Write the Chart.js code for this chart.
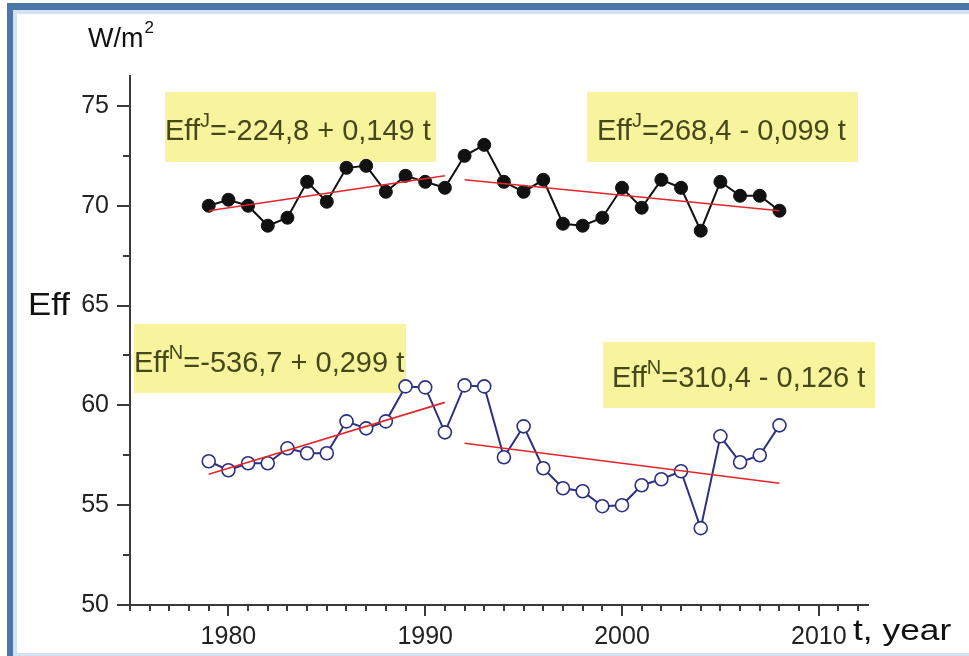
<!DOCTYPE html>
<html>
<head>
<meta charset="utf-8">
<script src="https://cdn.jsdelivr.net/npm/chart.js@4.4.1/dist/chart.umd.min.js"></script>
<style>
  html, body { margin: 0; padding: 0; background: #ffffff; }
  #wrap { position: relative; width: 969px; height: 656px; overflow: hidden; background: #ffffff; }
  .band { position: absolute; }
  #topDark { left: 7px; top: 3px; right: 0; height: 7px; background: #4a76a8; }
  #topLight { left: 13px; top: 10px; right: 0; height: 4px; background: #d3e1f1; }
  #leftDark { left: 7px; top: 3px; width: 6px; bottom: 0; background: #4a76a8; }
  #leftLight { left: 13px; top: 10px; width: 4px; bottom: 0; background: #d3e1f1; }
  #bottomLight { left: 13px; right: 0; bottom: 0; height: 3px; background: #d3e1f1; }
  #c { position: absolute; left: 0; top: 0; }
</style>
</head>
<body>
<div id="wrap">
  <div class="band" id="topDark"></div>
  <div class="band" id="topLight"></div>
  <div class="band" id="leftDark"></div>
  <div class="band" id="leftLight"></div>
  <div class="band" id="bottomLight"></div>
  <canvas id="c" width="969" height="656"></canvas>
</div>
<script>
// Years of observation
const years = [1979, 1980, 1981, 1982, 1983, 1984, 1985, 1986, 1987, 1988,
               1989, 1990, 1991, 1992, 1993, 1994, 1995, 1996, 1997, 1998,
               1999, 2000, 2001, 2002, 2003, 2004, 2005, 2006, 2007, 2008];

// Eff^J, W/m2
const effJ = [70.0, 70.3, 70.0, 69.0, 69.4, 71.2, 70.2, 71.9, 72.0, 70.7,
              71.5, 71.2, 70.9, 72.5, 73.05, 71.2, 70.7, 71.3, 69.1, 69.0,
              69.4, 70.9, 69.9, 71.3, 70.9, 68.75, 71.2, 70.5, 70.5, 69.75];

// Eff^N, W/m2
const effN = [57.2, 56.75, 57.1, 57.1, 57.85, 57.6, 57.6, 59.2, 58.85, 59.2,
              60.95, 60.9, 58.65, 61.0, 60.95, 57.4, 58.95, 56.85, 55.85, 55.7,
              54.95, 55.0, 56.0, 56.3, 56.7, 53.85, 58.45, 57.15, 57.5, 59.0];

// Linear trends: end points of each fitted segment
const trendYearsA = [1979, 1991];
const trendYearsB = [1992, 2008];
const trendJA = [69.75, 71.5];
const trendJB = [71.3, 69.75];
const trendNA = [56.55, 60.15];
const trendNB = [58.1, 56.1];

// Equation texts: main part, superscript, remainder
const eqBase = ['Eff', 'Eff', 'Eff', 'Eff'];
const eqSup = ['J', 'J', 'N', 'N'];
const eqRest = ['=-224,8 + 0,149 t', '=268,4 - 0,099 t', '=-536,7 + 0,299 t', '=310,4 - 0,126 t'];

// Axis tick labels
const xTicks = [1980, 1990, 2000, 2010];
const yTicks = [50, 55, 60, 65, 70, 75];

// Placement of the equation boxes (top-left anchor in data units, size in px)
const eqLayout = [
  { year: 1976.78, value: 75.70, w: 271, h: 70, dx: 0,  dy: 48 },
  { year: 1998.22, value: 75.70, w: 271, h: 70, dx: 10, dy: 48 },
  { year: 1975.20, value: 64.08, w: 272, h: 69, dx: 0,  dy: 48 },
  { year: 1999.03, value: 63.18, w: 272, h: 66, dx: 9,  dy: 45 }
];

const FONT = "'Liberation Sans', Arial, Helvetica, sans-serif";
const AXIS_COLOR = '#3a3a3a';

function pts(xs, ys) { return xs.map((x, i) => ({ x: x, y: ys[i] })); }

function trendSet(xs, ys) {
  return {
    data: pts(xs, ys), borderColor: '#e3262b', borderWidth: 1.6,
    pointRadius: 0, fill: false, tension: 0, order: 0
  };
}

// horizontally widened text, as in the axis captions
function wideText(ctx, text, x, y, font, sx) {
  ctx.save();
  ctx.font = font;
  ctx.translate(x, y);
  ctx.scale(sx, 1);
  ctx.fillText(text, 0, 0);
  const w = ctx.measureText(text).width * sx;
  ctx.restore();
  return w;
}

const decor = {
  id: 'decor',
  beforeDatasetsDraw(chart) {
    const ctx = chart.ctx;
    const x = chart.scales.x, y = chart.scales.y;
    ctx.save();
    // minor ticks
    ctx.strokeStyle = AXIS_COLOR;
    ctx.lineWidth = 2;
    for (let yr = Math.ceil(x.min); yr <= x.max; yr++) {
      if (yr % 10 === 0) continue;
      const px = Math.round(x.getPixelForValue(yr));
      ctx.beginPath(); ctx.moveTo(px, y.bottom); ctx.lineTo(px, y.bottom + 6); ctx.stroke();
    }
    for (let v = y.min + 2.5; v < y.max; v += 5) {
      const py = Math.round(y.getPixelForValue(v));
      ctx.beginPath(); ctx.moveTo(x.left, py); ctx.lineTo(x.left - 7, py); ctx.stroke();
    }
    // equation boxes
    eqLayout.forEach((b, i) => {
      const left = x.getPixelForValue(b.year);
      const top = y.getPixelForValue(b.value);
      ctx.fillStyle = '#f7f49d';
      ctx.fillRect(left, top, b.w, b.h);
      let tx = left + b.dx;
      const base = top + b.dy;
      ctx.fillStyle = '#47471c';
      ctx.textBaseline = 'alphabetic';
      ctx.textAlign = 'left';
      ctx.font = '29px ' + FONT;
      ctx.fillText(eqBase[i], tx, base);
      tx += ctx.measureText(eqBase[i]).width;
      ctx.font = '20px ' + FONT;
      ctx.fillText(eqSup[i], tx, base - 13);
      tx += ctx.measureText(eqSup[i]).width;
      ctx.font = '29px ' + FONT;
      ctx.fillText(eqRest[i], tx, base);
    });
    ctx.restore();
  },
  afterDraw(chart) {
    const ctx = chart.ctx;
    ctx.save();
    ctx.fillStyle = '#111111';
    ctx.textBaseline = 'alphabetic';
    ctx.textAlign = 'left';
    wideText(ctx, 'Eff', 28, 315, '31px ' + FONT, 1.12);
    const wm = wideText(ctx, 'W/m', 88, 47, '27px ' + FONT, 1.0);
    wideText(ctx, '2', 88 + wm + 1, 33, '17px ' + FONT, 1.0);
    wideText(ctx, 't, year', 853, 640, '29px ' + FONT, 1.22);
    ctx.restore();
  }
};

new Chart(document.getElementById('c'), {
  type: 'line',
  data: {
    datasets: [
      trendSet(trendYearsA, trendJA),
      trendSet(trendYearsB, trendJB),
      trendSet(trendYearsA, trendNA),
      trendSet(trendYearsB, trendNB),
      {
        data: pts(years, effJ), borderColor: '#111111', borderWidth: 2,
        pointRadius: 6.5, pointBackgroundColor: '#111111', pointBorderColor: '#111111',
        pointBorderWidth: 1, tension: 0, fill: false, order: 1
      },
      {
        data: pts(years, effN), borderColor: '#2b3080', borderWidth: 2,
        pointRadius: 6.5, pointBackgroundColor: '#ffffff', pointBorderColor: '#2b3080',
        pointBorderWidth: 1.6, tension: 0, fill: false, order: 1
      }
    ]
  },
  options: {
    responsive: false,
    animation: false,
    layout: { padding: { left: 0, top: 76, right: 101, bottom: 0 } },
    plugins: { legend: { display: false }, tooltip: { enabled: false } },
    scales: {
      x: {
        type: 'linear', min: 1975, max: 2012.5,
        afterBuildTicks: s => { s.ticks = xTicks.map(v => ({ value: v })); },
        afterFit: s => { s.height = 51; },
        grid: { drawOnChartArea: false, drawTicks: true, tickLength: 11, color: AXIS_COLOR, lineWidth: 2 },
        border: { display: true, color: AXIS_COLOR, width: 2 },
        ticks: { color: '#222222', font: { family: FONT, size: 25 }, padding: 6,
                 maxRotation: 0, autoSkip: false, callback: v => String(v) }
      },
      y: {
        type: 'linear', min: 50, max: 76.5,
        afterBuildTicks: s => { s.ticks = yTicks.map(v => ({ value: v })); },
        afterFit: s => { s.width = 130; },
        grid: { drawOnChartArea: false, drawTicks: true, tickLength: 13, color: AXIS_COLOR, lineWidth: 2 },
        border: { display: true, color: AXIS_COLOR, width: 2 },
        ticks: { color: '#222222', font: { family: FONT, size: 25 }, padding: 8,
                 autoSkip: false, callback: v => String(v) }
      }
    }
  },
  plugins: [decor]
});
</script>
</body>
</html>
